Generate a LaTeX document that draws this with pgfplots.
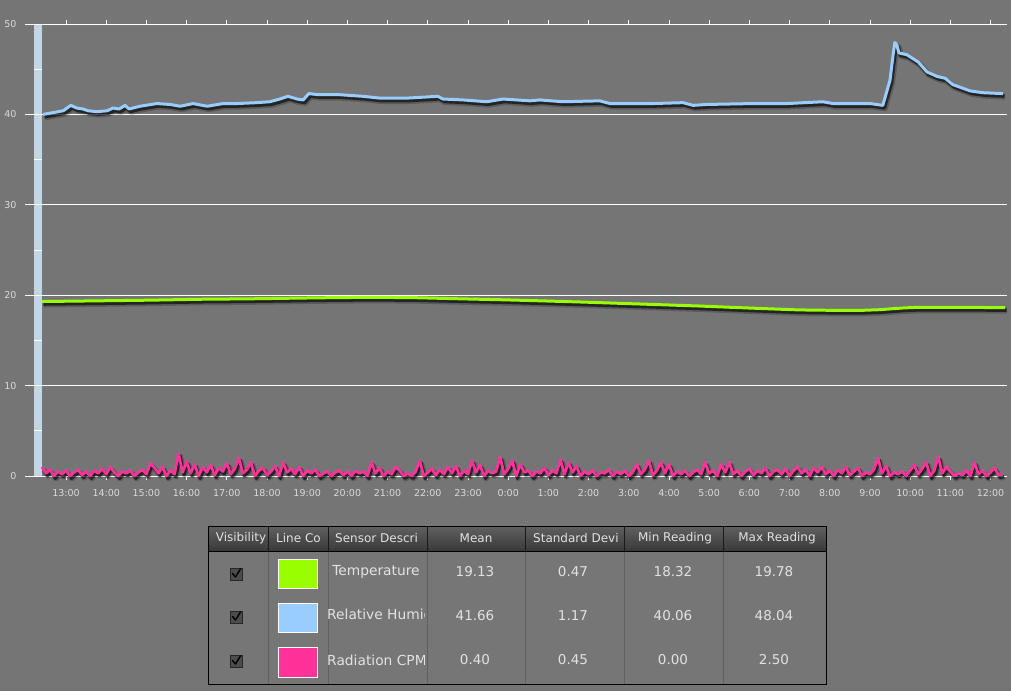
\documentclass[border=0pt]{standalone}
\usepackage{fontspec}
\setmainfont{DejaVu Sans}
\usepackage{pgfplots}
\usepackage{pgfplotstable}
\pgfplotsset{compat=1.18}

\definecolor{bg}{HTML}{757575}
\definecolor{body}{HTML}{767676}
\definecolor{hum}{HTML}{99CCFF}
\definecolor{temp}{HTML}{99FF00}
\definecolor{rad}{HTML}{FF3399}
\definecolor{barc}{HTML}{C4D6E6}
\definecolor{lbl}{HTML}{DADADA}
\definecolor{txt}{HTML}{E2E2E2}

% hours since midnight of the first day
\pgfplotstableread[row sep=\\]{
x y\\
12.43 40.0\\ 12.93 40.4\\ 13.12 41.0\\ 13.27 40.7\\ 13.42 40.6\\ 13.55 40.4\\
13.77 40.3\\ 14.02 40.4\\ 14.17 40.7\\ 14.32 40.6\\ 14.47 41.0\\ 14.57 40.6\\
14.84 40.9\\ 15.26 41.2\\ 15.59 41.1\\ 15.84 40.9\\ 16.16 41.2\\ 16.51 40.9\\
16.91 41.2\\ 17.25 41.2\\ 17.75 41.3\\ 18.07 41.4\\ 18.32 41.7\\ 18.52 42.0\\
18.75 41.7\\ 18.90 41.6\\ 19.04 42.3\\ 19.24 42.2\\ 19.74 42.2\\ 20.39 42.0\\
20.81 41.8\\ 21.48 41.8\\ 22.25 42.0\\ 22.38 41.7\\ 22.88 41.6\\ 23.47 41.4\\
23.87 41.7\\ 24.22 41.6\\ 24.54 41.5\\ 24.79 41.6\\ 25.36 41.4\\ 26.28 41.5\\
26.53 41.2\\ 27.60 41.2\\ 28.35 41.3\\ 28.60 41.0\\ 28.95 41.1\\ 30.09 41.2\\
30.94 41.2\\ 31.83 41.4\\ 32.08 41.2\\ 32.75 41.2\\ 33.00 41.2\\ 33.32 41.0\\
33.50 43.8\\ 33.57 46.4\\ 33.62 47.95\\ 33.67 47.7\\ 33.72 46.8\\ 33.92 46.6\\
34.20 45.8\\ 34.42 44.7\\ 34.67 44.2\\ 34.87 44.0\\ 35.06 43.3\\ 35.49 42.6\\
35.81 42.4\\ 36.31 42.3\\
}\humidity

\pgfplotstableread[row sep=\\]{
x y\\
12.40 19.30\\ 13.85 19.38\\ 15.09 19.45\\ 16.33 19.55\\ 17.58 19.60\\
18.82 19.68\\ 19.82 19.74\\ 20.81 19.76\\ 21.73 19.72\\ 22.80 19.60\\
23.80 19.50\\ 24.79 19.38\\ 25.79 19.25\\ 26.78 19.10\\ 27.78 18.95\\
28.77 18.80\\ 29.77 18.62\\ 30.76 18.45\\ 31.26 18.37\\ 32.00 18.33\\
32.78 18.32\\ 33.25 18.40\\ 33.55 18.50\\ 33.87 18.60\\ 34.17 18.65\\
35.24 18.65\\ 36.36 18.63\\
}\temperature

\pgfplotstableread[row sep=\\]{
x y\\
12.4 1.0\\ 12.5 0.3\\ 12.6 0.7\\ 12.7 0.0\\ 12.8 0.5\\ 12.9 0.2\\ 13.0 0.6\\ 13.1 0.0\\ 13.2 0.4\\ 13.3 0.7\\
13.4 0.1\\ 13.5 0.5\\ 13.6 0.0\\ 13.7 0.6\\ 13.8 0.3\\ 13.9 0.8\\ 14.0 0.2\\ 14.1 1.0\\ 14.2 0.4\\ 14.3 0.0\\
14.4 0.5\\ 14.5 0.3\\ 14.6 0.6\\ 14.7 0.0\\ 14.8 0.4\\ 14.9 0.7\\ 15.0 0.2\\ 15.1 1.4\\ 15.2 0.9\\ 15.3 0.3\\
15.4 1.0\\ 15.5 0.0\\ 15.6 0.6\\ 15.7 0.2\\ 15.8 2.5\\ 15.9 0.4\\ 16.0 1.6\\ 16.1 0.3\\ 16.2 1.3\\ 16.3 0.0\\
16.4 1.0\\ 16.5 0.4\\ 16.6 1.2\\ 16.7 0.1\\ 16.8 0.9\\ 16.9 0.5\\ 17.0 1.4\\ 17.1 0.2\\ 17.2 0.8\\ 17.3 2.0\\
17.4 0.3\\ 17.5 0.7\\ 17.6 1.5\\ 17.7 0.0\\ 17.8 0.6\\ 17.9 0.9\\ 18.0 0.1\\ 18.1 0.5\\ 18.2 1.1\\ 18.3 0.0\\
18.4 1.5\\ 18.5 0.4\\ 18.6 0.8\\ 18.7 0.2\\ 18.8 1.0\\ 18.9 0.0\\ 19.0 0.6\\ 19.1 0.3\\ 19.2 0.7\\ 19.3 0.0\\
19.4 0.3\\ 19.5 0.5\\ 19.6 0.0\\ 19.7 0.4\\ 19.8 0.6\\ 19.9 0.1\\ 20.0 0.5\\ 20.1 0.0\\ 20.2 0.6\\ 20.3 0.3\\
20.4 0.5\\ 20.5 0.0\\ 20.6 1.5\\ 20.7 0.3\\ 20.8 0.9\\ 20.9 0.0\\ 21.0 0.5\\ 21.1 0.2\\ 21.2 1.0\\ 21.3 0.6\\
21.4 0.0\\ 21.5 0.3\\ 21.6 0.0\\ 21.7 0.5\\ 21.8 1.7\\ 21.9 0.0\\ 22.0 0.4\\ 22.1 0.8\\ 22.2 0.1\\ 22.3 0.7\\
22.4 0.2\\ 22.5 1.0\\ 22.6 0.3\\ 22.7 1.1\\ 22.8 0.0\\ 22.9 0.6\\ 23.0 0.2\\ 23.1 1.7\\ 23.2 0.4\\ 23.3 1.2\\
23.4 0.0\\ 23.5 0.6\\ 23.6 0.3\\ 23.7 0.5\\ 23.8 2.1\\ 23.9 0.2\\ 24.0 0.8\\ 24.1 1.7\\ 24.2 0.0\\ 24.3 1.3\\
24.4 0.4\\ 24.5 0.6\\ 24.6 0.0\\ 24.7 0.5\\ 24.8 0.3\\ 24.9 0.9\\ 25.0 0.1\\ 25.1 0.6\\ 25.2 0.3\\ 25.3 1.8\\
25.4 0.2\\ 25.5 1.5\\ 25.6 0.4\\ 25.7 1.1\\ 25.8 0.0\\ 25.9 0.5\\ 26.0 0.2\\ 26.1 0.6\\ 26.2 0.0\\ 26.3 0.4\\
26.4 0.3\\ 26.5 0.7\\ 26.6 0.0\\ 26.7 0.5\\ 26.8 0.2\\ 26.9 0.6\\ 27.0 0.0\\ 27.1 0.4\\ 27.2 1.3\\ 27.3 0.2\\
27.4 0.7\\ 27.5 1.7\\ 27.6 0.1\\ 27.7 0.6\\ 27.8 1.5\\ 27.9 0.3\\ 28.0 1.3\\ 28.1 0.0\\ 28.2 0.5\\ 28.3 0.2\\
28.4 0.6\\ 28.5 0.0\\ 28.6 0.4\\ 28.7 0.7\\ 28.8 0.2\\ 28.9 1.5\\ 29.0 0.3\\ 29.1 0.6\\ 29.2 0.0\\ 29.3 1.3\\
29.4 0.4\\ 29.5 1.5\\ 29.6 0.2\\ 29.7 0.6\\ 29.8 0.0\\ 29.9 0.5\\ 30.0 0.8\\ 30.1 0.1\\ 30.2 0.6\\ 30.3 0.3\\
30.4 0.9\\ 30.5 0.0\\ 30.6 0.5\\ 30.7 0.7\\ 30.8 0.2\\ 30.9 0.8\\ 31.0 0.0\\ 31.1 0.6\\ 31.2 1.0\\ 31.3 0.3\\
31.4 0.7\\ 31.5 0.0\\ 31.6 0.9\\ 31.7 0.4\\ 31.8 1.0\\ 31.9 0.2\\ 32.0 0.6\\ 32.1 0.0\\ 32.2 0.7\\ 32.3 0.3\\
32.4 1.0\\ 32.5 0.1\\ 32.6 0.5\\ 32.7 0.9\\ 32.8 0.0\\ 32.9 0.4\\ 33.0 0.2\\ 33.1 0.7\\ 33.2 2.0\\ 33.3 0.3\\
33.4 1.1\\ 33.5 0.0\\ 33.6 0.4\\ 33.7 0.2\\ 33.8 0.5\\ 33.9 0.0\\ 34.0 0.6\\ 34.1 1.2\\ 34.2 0.2\\ 34.3 0.8\\
34.4 1.5\\ 34.5 0.0\\ 34.6 0.6\\ 34.7 2.1\\ 34.8 0.3\\ 34.9 1.0\\ 35.0 0.5\\ 35.1 0.0\\ 35.2 0.3\\ 35.3 0.1\\
35.4 0.6\\ 35.5 0.0\\ 35.6 1.5\\ 35.7 0.2\\ 35.8 0.6\\ 35.9 0.0\\ 36.0 0.4\\ 36.1 0.9\\ 36.2 0.1\\ 36.3 0.2\\
}\radiation

\pgfplotsset{
  shadow/.style={black, opacity=0.6, line width=3.5pt, line join=round,
    transform canvas={xshift=1.5pt, yshift=-2.5pt}},
  softshadow/.style={black, opacity=0.22, line width=6pt, line join=round,
    transform canvas={xshift=2pt, yshift=-3pt}},
  series/.style={#1, line width=3pt, line join=round},
}

\begin{document}
\begin{tikzpicture}
\useasboundingbox (0pt,0pt) rectangle (1011pt,691pt);
\begin{scope}[x=1pt,y=1pt]
\fill[bg] (0,0) rectangle (1011,691);
% slider bar along the y axis
\fill[barc] (34,214) rectangle (42,667);
\foreach \v in {5,15,25,35,45}
  \draw[white, line width=0.8pt] (34,215+9.04*\v) -- (42,215+9.04*\v);
\end{scope}

\begin{axis}[
  at={(25pt,215pt)}, anchor=south west,
  width=982pt, height=452pt, scale only axis,
  xmin=11.98, xmax=36.41, ymin=0, ymax=50,
  axis line style={draw=none},
  clip=false,
  ytick={0,10,...,50},
  ymajorgrids,
  grid style={white, line width=0.9pt},
  ytick style={draw=none},
  xtick={13,...,36},
  xticklabels={13:00,14:00,15:00,16:00,17:00,18:00,19:00,20:00,21:00,22:00,23:00,0:00,
    1:00,2:00,3:00,4:00,5:00,6:00,7:00,8:00,9:00,10:00,11:00,12:00},
  xtick style={white, line width=0.8pt},
  tick align=outside,
  major tick length=4pt,
  ticklabel style={text=lbl, font=\fontsize{9.5}{10}\selectfont},
  xticklabel style={yshift=-6pt},
  yticklabel style={xshift=-1pt},
  /pgf/number format/assume math mode=true,
]
\addplot[softshadow] table {\temperature};
\addplot[shadow] table {\temperature};
\addplot[series=temp] table {\temperature};

\addplot[softshadow] table {\humidity};
\addplot[shadow] table {\humidity};
\addplot[series=hum] table {\humidity};

\addplot[softshadow, line width=5pt] table {\radiation};
\addplot[shadow, line width=3pt] table {\radiation};
\addplot[series=rad, line width=2.7pt] table {\radiation};
\end{axis}

\begin{scope}[x=1pt,y=1pt]
% statistics table
\fill[body] (208,7) rectangle (826,140);
\shade[top color=black!62, bottom color=black!78] (208,140) rectangle (826,165);
\foreach \c in {268,328,427,525,624,723}
  \draw[black!62, line width=0.6pt] (\c,7) -- (\c,140);
\foreach \c in {268,328,427,525,624,723}
  \draw[black!90, line width=1pt] (\c,140) -- (\c,165);
\draw[black, line width=1pt] (208,140) -- (826,140);
\draw[black, line width=1pt] (208,7) rectangle (826,165);

\begin{scope}[font=\fontsize{12}{14}\selectfont, text=txt]
\node at (241,153) {Visibility};
\node[anchor=west, inner sep=0pt] at (276,153) {Line Co};
\node[anchor=west, inner sep=0pt] at (335,153) {Sensor Descri};
\node at (476,153) {Mean};
\node[anchor=west, inner sep=0pt] at (533,153) {Standard Devi};
\node at (675,153) {Min Reading};
\node at (777,153) {Max Reading};
\end{scope}

% check boxes
\foreach \yy in {117,74,30} {
  \fill[black!70, draw=black!85] (230,\yy-6) rectangle (242,\yy+6);
  \draw[black, line width=1.4pt, line cap=round, line join=round]
    (232.5,\yy+0.5) -- (235.5,\yy-3) -- (240.5,\yy+5);
}

% colour swatches
\draw[white, line width=1pt, fill=temp] (278,103) rectangle (317,132);
\draw[white, line width=1pt, fill=hum] (278,59) rectangle (317,88);
\draw[white, line width=1pt, fill=rad] (278,14) rectangle (317,44);

\begin{scope}[font=\fontsize{13.5}{15}\selectfont, text=txt]
\begin{scope}[font=\fontsize{13.8}{15}\selectfont]
\clip (328,7) rectangle (424,140);
\node at (376,119) {Temperature};
\node[anchor=west, inner sep=0pt] at (327,75) {Relative Humidity};
\node[anchor=west, inner sep=0pt] at (327,31) {Radiation CPM};
\end{scope}
\node at (475,119) {19.13};
\node at (573,119) {0.47};
\node at (673,119) {18.32};
\node at (774,119) {19.78};
\node at (475,75) {41.66};
\node at (573,75) {1.17};
\node at (673,75) {40.06};
\node at (774,75) {48.04};
\node at (475,31) {0.40};
\node at (573,31) {0.45};
\node at (673,31) {0.00};
\node at (774,31) {2.50};
\end{scope}
\end{scope}
\end{tikzpicture}
\end{document}
